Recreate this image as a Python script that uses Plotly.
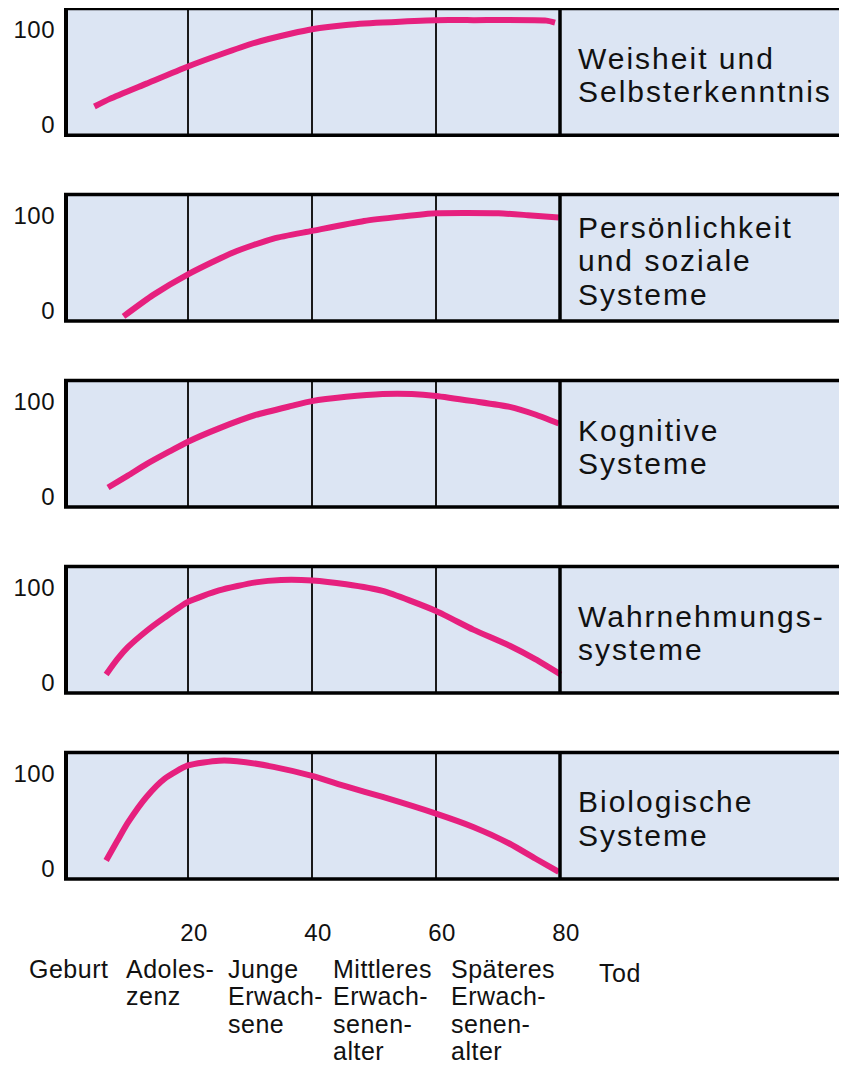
import plotly.graph_objects as go

# ---------------- data ----------------
ages_weisheit = [4.9, 7.4, 13.3, 20, 25, 30.9, 36.7, 40, 45.5, 51.4, 60, 66, 77.8, 79.2]
vals_weisheit = [19, 27, 43, 61, 73, 86, 95.5, 100, 104.5, 107, 109.5, 109.5, 109, 107]

ages_persoenlichkeit = [9.6, 14.4, 20, 27.3, 33.8, 40, 48.4, 54.3, 60, 70.1, 74.8, 79.8]
vals_persoenlichkeit = [-6, 16.5, 38, 61, 75.5, 83.5, 94, 98.5, 102, 102, 100, 97.5]

ages_kognitiv = [7.1, 10.3, 13.3, 16.8, 20, 25, 30.9, 36.7, 40, 45.5, 51.4, 56.1, 60, 66, 71.9, 76, 79.8]
vals_kognitiv = [9.5, 22, 34, 46.5, 57.5, 71.5, 85.5, 95, 100, 104.5, 107.5, 107.5, 105.5, 100, 94, 86, 76.5]

ages_wahrnehmung = [6.8, 8.6, 10.3, 13.3, 16.2, 20, 25, 30.9, 35, 40, 45.5, 51.4, 60, 66, 71.9, 76, 80.1]
vals_wahrnehmung = [8.5, 24.5, 37, 54, 68, 84.5, 96.5, 105, 107.5, 107, 103, 96, 75, 55.5, 38.5, 24.5, 8.5]

ages_biologisch = [6.8, 8.6, 10.3, 13.3, 16.2, 20, 25, 27.9, 33.8, 40, 45.5, 51.4, 60, 66, 71.9, 76, 79.8]
vals_biologisch = [8.5, 29, 48, 75, 94, 108, 113, 112.5, 106.5, 97, 86, 75, 57.5, 43.5, 26, 10.5, -3.5]

panel_labels = [
    ["Weisheit und", "Selbsterkenntnis"],
    ["Persönlichkeit", "und soziale", "Systeme"],
    ["Kognitive", "Systeme"],
    ["Wahrnehmungs-", "systeme"],
    ["Biologische", "Systeme"],
]

x_tick_vals = [20, 40, 60, 80]
x_tick_text = ["20", "40", "60", "80"]
y_tick_vals = [0, 100]
y_tick_text = ["0", "100"]

stage_labels = [
    ["Geburt"],
    ["Adoles-", "zenz"],
    ["Junge", "Erwach-", "sene"],
    ["Mittleres", "Erwach-", "senen-", "alter"],
    ["Späteres", "Erwach-", "senen-", "alter"],
    ["Tod"],
]

series = [
    (ages_weisheit, vals_weisheit),
    (ages_persoenlichkeit, vals_persoenlichkeit),
    (ages_kognitiv, vals_kognitiv),
    (ages_wahrnehmung, vals_wahrnehmung),
    (ages_biologisch, vals_biologisch),
]

# ---------------- layout / style ----------------
PAGE_OFF = 8                 # default page body margin
W, H = 847 - PAGE_OFF, 1067 - PAGE_OFF
ML = 64 - PAGE_OFF
PX_PER_YEAR = 6.2
X_MAX = (W - ML) / PX_PER_YEAR
Y_RANGE = [-11, 121.7]
PANEL_TOPS = [8.5 + 186.5 * i for i in range(5)]   # page pixels
PANEL_H = 127
PINK = "#e6207e"
BG = "#dce5f3"
FONT = "Liberation Sans, Arial, sans-serif"
TXT = "#111111"
stage_left_px = [28, 125, 227, 332, 450, 598]
stage_top_shift = [0, 0, 0, 0, 0, 4]


def fx(px):
    return (px - PAGE_OFF - ML) / (W - ML)


def fy(py):
    return 1 - (py - PAGE_OFF) / H


def spaced(t, ls):
    return f'<span style="letter-spacing:{ls}px">{t}</span>'


fig = go.Figure()
layout = dict(
    width=W, height=H,
    margin=dict(l=ML, r=0, t=0, b=0),
    paper_bgcolor="white",
    plot_bgcolor=BG,
    showlegend=False,
    font=dict(family=FONT, color=TXT),
)
shapes = []
annotations = []

for i, (ages, vals) in enumerate(series):
    k = i + 1
    sfx = "" if k == 1 else str(k)
    top = PANEL_TOPS[i]
    bot = top + PANEL_H
    fig.add_trace(go.Scatter(
        x=ages, y=vals, mode="lines",
        line=dict(color=PINK, width=6, shape="spline", smoothing=0.6),
        xaxis=f"x{sfx}", yaxis=f"y{sfx}", hoverinfo="skip",
    ))
    xa = dict(
        domain=[0, 1], range=[0, X_MAX], anchor=f"y{sfx}",
        tickmode="array", tickvals=x_tick_vals,
        ticktext=[spaced(t, 0.5) for t in x_tick_text],
        showticklabels=(k == 5), ticks="",
        showgrid=True, gridcolor="#1a1a1a", gridwidth=1.5,
        zeroline=False, showline=False, fixedrange=True,
        tickfont=dict(size=24, family=FONT, color=TXT),
    )
    if k == 5:
        xa.update(ticklabelstandoff=37, ticklabelshift=6)
    layout[f"xaxis{sfx}"] = xa
    layout[f"yaxis{sfx}"] = dict(
        domain=[fy(bot), fy(top)], range=Y_RANGE,
        anchor=f"x{sfx}", tickmode="array", tickvals=y_tick_vals,
        ticktext=[spaced(t, 0.5) for t in y_tick_text],
        ticks="", showgrid=False, zeroline=False, showline=False,
        fixedrange=True, ticklabelstandoff=8,
        tickfont=dict(size=24, family=FONT, color=TXT),
    )
    # frame: top, bottom, left, thick line at 80
    for yy in (0, 1):
        shapes.append(dict(type="line", xref="paper", yref=f"y{sfx} domain",
                           x0=0, x1=1.01, y0=yy, y1=yy,
                           line=dict(color="black", width=3.5)))
    shapes.append(dict(type="line", xref=f"x{sfx}", yref=f"y{sfx} domain",
                       x0=0.32, x1=0.32, y0=0, y1=1,
                       line=dict(color="black", width=4)))
    shapes.append(dict(type="line", xref=f"x{sfx}", yref=f"y{sfx} domain",
                       x0=80, x1=80, y0=0, y1=1,
                       line=dict(color="black", width=3.5)))
    # right-hand label
    lines = panel_labels[i]
    mid = (top + bot) / 2 + 3
    spacing = 33.5
    for j, ln in enumerate(lines):
        cy = mid + (j - (len(lines) - 1) / 2) * spacing
        annotations.append(dict(
            text=spaced(ln, 2), xref="paper", yref="paper",
            x=fx(577), y=fy(cy),
            xanchor="left", yanchor="middle", showarrow=False,
            borderpad=0, font=dict(size=30, family=FONT, color=TXT),
        ))

# stage labels under the axis
for lines, lp, sh in zip(stage_labels, stage_left_px, stage_top_shift):
    for j, ln in enumerate(lines):
        cy = 972 + sh + 27.3 * j
        annotations.append(dict(
            text=spaced(ln, 0.5), xref="paper", yref="paper",
            x=fx(lp), y=fy(cy),
            xanchor="left", yanchor="middle", showarrow=False,
            borderpad=0, font=dict(size=25, family=FONT, color=TXT),
        ))

layout["shapes"] = shapes
layout["annotations"] = annotations
fig.update_layout(**layout)
fig.write_html("out.html")
